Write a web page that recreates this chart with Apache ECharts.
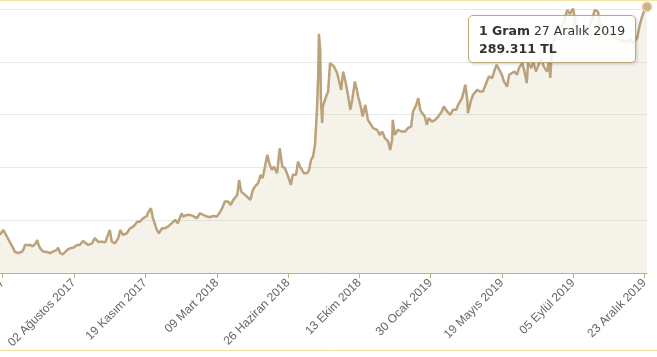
<!DOCTYPE html>
<html><head><meta charset="utf-8">
<script src="https://cdn.jsdelivr.net/npm/echarts@6/dist/echarts.min.js"></script>
<style>html,body{margin:0;padding:0;background:#fff;overflow:hidden}#c{width:657px;height:357px}</style>
</head><body><div id="c"></div>
<script>
const dates = ['2017-04-11','2017-04-16','2017-04-19','2017-04-22','2017-04-26','2017-05-01','2017-05-04','2017-05-09','2017-05-15','2017-05-18','2017-05-19','2017-05-22','2017-05-27','2017-05-31','2017-06-04','2017-06-07','2017-06-08','2017-06-11','2017-06-16','2017-06-22','2017-06-27','2017-07-01','2017-07-07','2017-07-09','2017-07-12','2017-07-16','2017-07-23','2017-07-27','2017-08-01','2017-08-07','2017-08-11','2017-08-16','2017-08-19','2017-08-24','2017-08-30','2017-09-03','2017-09-08','2017-09-14','2017-09-19','2017-09-22','2017-09-26','2017-09-29','2017-10-04','2017-10-09','2017-10-12','2017-10-16','2017-10-22','2017-10-27','2017-11-01','2017-11-07','2017-11-11','2017-11-16','2017-11-22','2017-11-23','2017-11-28','2017-12-01','2017-12-07','2017-12-10','2017-12-15','2017-12-19','2017-12-24','2017-12-30','2018-01-04','2018-01-08','2018-01-14','2018-01-16','2018-01-22','2018-01-27','2018-01-31','2018-02-06','2018-02-11','2018-02-16','2018-02-22','2018-02-26','2018-03-03','2018-03-09','2018-03-14','2018-03-17','2018-03-21','2018-03-26','2018-03-30','2018-04-03','2018-04-09','2018-04-12','2018-04-15','2018-04-18','2018-04-24','2018-04-29','2018-05-03','2018-05-06','2018-05-11','2018-05-15','2018-05-18','2018-05-25','2018-05-28','2018-06-01','2018-06-04','2018-06-09','2018-06-13','2018-06-17','2018-06-21','2018-06-26','2018-06-30','2018-07-03','2018-07-08','2018-07-11','2018-07-14','2018-07-17','2018-07-20','2018-07-25','2018-07-28','2018-07-31','2018-08-03','2018-08-06','2018-08-09','2018-08-11','2018-08-12','2018-08-14','2018-08-15','2018-08-17','2018-08-18','2018-08-23','2018-08-26','2018-08-29','2018-09-01','2018-09-04','2018-09-09','2018-09-12','2018-09-15','2018-09-18','2018-09-21','2018-09-25','2018-09-29','2018-10-02','2018-10-06','2018-10-09','2018-10-11','2018-10-15','2018-10-18','2018-10-22','2018-10-26','2018-10-29','2018-11-03','2018-11-09','2018-11-13','2018-11-17','2018-11-21','2018-11-26','2018-11-29','2018-12-02','2018-12-03','2018-12-06','2018-12-11','2018-12-17','2018-12-22','2018-12-26','2018-12-31','2019-01-03','2019-01-08','2019-01-11','2019-01-14','2019-01-17','2019-01-21','2019-01-24','2019-01-27','2019-02-01','2019-02-06','2019-02-10','2019-02-16','2019-02-19','2019-02-24','2019-03-01','2019-03-05','2019-03-10','2019-03-13','2019-03-16','2019-03-19','2019-03-24','2019-03-27','2019-03-28','2019-04-02','2019-04-05','2019-04-11','2019-04-15','2019-04-20','2019-04-26','2019-04-29','2019-05-04','2019-05-07','2019-05-11','2019-05-15','2019-05-19','2019-05-22','2019-05-27','2019-05-30','2019-06-03','2019-06-07','2019-06-11','2019-06-14','2019-06-19','2019-06-22','2019-06-26','2019-06-28','2019-07-03','2019-07-06','2019-07-10','2019-07-13','2019-07-18','2019-07-22','2019-07-27','2019-07-30','2019-08-01','2019-08-04','2019-08-10','2019-08-16','2019-08-22','2019-08-27','2019-08-31','2019-09-05','2019-09-09','2019-09-16','2019-09-22','2019-09-28','2019-10-04','2019-10-08','2019-10-13','2019-10-18','2019-10-24','2019-10-31','2019-11-08','2019-11-16','2019-11-23','2019-12-01','2019-12-07','2019-12-12','2019-12-16','2019-12-19','2019-12-22','2019-12-27'];
const values = [151.1,154.1,153.5,149.8,146.8,143.2,140.7,140.1,141.0,143.2,145.0,144.1,145.0,144.1,145.6,148.0,146.2,143.2,141.0,140.7,140.0,141.0,142.0,143.3,140.0,139.3,142.0,143.0,143.3,145.0,145.0,147.4,147.0,145.0,146.0,149.1,147.0,147.0,146.6,146.2,154.1,147.0,146.0,149.1,154.1,151.1,152.1,155.1,156.1,159.1,159.1,161.2,162.6,164.2,167.3,161.2,154.1,152.1,155.1,155.1,156.1,158.2,160.2,158.2,164.2,162.2,163.2,163.2,162.6,161.2,164.2,163.2,162.2,161.8,162.6,162.2,165.2,167.3,171.3,171.3,169.3,172.3,175.3,184.4,177.3,176.4,174.3,172.3,178.4,180.4,182.4,187.5,185.5,199.6,194.5,190.5,192.5,188.5,203.6,192.5,191.5,186.4,181.4,187.5,187.5,195.5,192.5,192.5,188.5,188.5,190.5,196.6,198.6,205.7,226.9,249.3,273.0,263.3,233.0,219.0,228.9,235.0,237.8,255.2,255.7,253.2,249.1,244.1,239.0,250.1,245.1,237.0,226.9,233.0,244.1,239.0,235.0,228.9,222.8,229.9,220.8,219.8,215.8,214.8,211.7,213.7,209.7,207.7,202.6,208.7,220.8,211.7,214.8,213.7,213.7,215.8,216.8,225.9,229.9,234.0,226.9,224.9,222.8,217.8,221.8,219.8,220.8,222.6,225.9,228.9,225.9,223.9,226.9,226.9,229.9,229.9,234.0,242.1,233.0,224.9,233.0,236.0,239.0,238.0,238.0,244.1,247.1,246.1,250.1,254.2,251.2,248.1,244.1,241.0,248.1,249.1,250.1,248.1,252.2,255.2,251.2,243.1,255.2,252.2,256.2,250.1,253.2,258.2,253.2,250.1,256.2,246.3,266.3,272.4,275.4,280.3,287.5,285.1,288.2,278.4,274.2,275.4,276.6,281.5,287.5,286.3,275.4,272.4,273.6,270.6,269.3,268.1,269.3,267.5,270.6,278.4,282.7,286.3,289.311];
const tickDates = ['2017-04-15','2017-08-02','2017-11-19','2018-03-09','2018-06-26','2018-10-13','2019-01-30','2019-05-19','2019-09-05','2019-12-23'];
const monthNames = ['Ocak','Şubat','Mart','Nisan','Mayıs','Haziran','Temmuz','Ağustos','Eylül','Ekim','Kasım','Aralık'];
const unitLabel = '1 Gram';
const currency = 'TL';
const yMin = 128, yMax = 320, yStep = 32;

function toTime(s){const p=s.split('-');return new Date(+p[0],+p[1]-1,+p[2]).getTime();}
function trDate(t){const d=new Date(t);return String(d.getDate()).padStart(2,'0')+' '+monthNames[d.getMonth()]+' '+d.getFullYear();}
const seriesData = dates.map((d,i)=>[toTime(d), values[i]]);
const last = seriesData.length-1;
const tickTimes = tickDates.map(toTime);

const chart = echarts.init(document.getElementById('c'), null, {renderer:'canvas'});
chart.setOption({
  animation:false,
  grid:{left:0,right:10,top:-43.8,bottom:84,containLabel:false,outerBoundsMode:'none'},
  xAxis:{type:'value',min:toTime(dates[0]),max:toTime(dates[last]),scale:true,
    axisLine:{lineStyle:{color:'#c9ab7c',width:1}},
    axisTick:{show:true,length:5,lineStyle:{color:'#c9ab7c'},customValues:tickTimes},
    axisLabel:{rotate:45,color:'#666',fontSize:12,fontFamily:'"Liberation Sans", Arial, sans-serif',margin:8,hideOverlap:false,customValues:tickTimes,formatter:function(v){return trDate(v);}},
    splitLine:{show:false}},
  yAxis:{type:'value',min:yMin,max:yMax,interval:yStep,
    axisLabel:{show:false},axisLine:{show:false},axisTick:{show:false},
    splitLine:{show:true,lineStyle:{color:'#e8e8e8',width:1}}},
  tooltip:{trigger:'axis',triggerOn:'none',alwaysShowContent:true,transitionDuration:0,showDelay:0,
    axisPointer:{type:'none'},position:[468,15],
    backgroundColor:'rgba(255,255,255,0.85)',borderColor:'#bfa77c',borderWidth:1,padding:[6,10,5,10],
    extraCssText:'border-radius:5px;box-shadow:1px 1px 3px rgba(0,0,0,0.18);',
    formatter:function(){
      const d=new Date(seriesData[last][0]);
      return '<div style="font-family:\'DejaVu Sans\',Verdana,sans-serif;font-size:12.5px;line-height:17.5px;color:#333;white-space:nowrap"><b>'+unitLabel+'</b> '+d.getDate()+' '+monthNames[d.getMonth()]+' '+d.getFullYear()+'<br><b>'+values[last].toFixed(3)+' '+currency+'</b></div>';
    }},
  graphic:[
    {type:'line',shape:{x1:0,y1:0.5,x2:657,y2:0.5},style:{stroke:'#f3e3a2',lineWidth:1},silent:true,z:100},
    {type:'line',shape:{x1:0,y1:350.5,x2:657,y2:350.5},style:{stroke:'#f1df9c',lineWidth:1},silent:true}
  ],
  series:[{type:'line',data:seriesData,showSymbol:false,symbol:'circle',symbolSize:9,
    lineStyle:{color:'#bba27a',width:2.5},
    itemStyle:{color:'#cfb283',borderColor:'#e9d9b8',borderWidth:1},
    areaStyle:{color:'rgba(201,179,138,0.25)'},
    emphasis:{disabled:true},
    markPoint:{symbol:'circle',symbolSize:9,silent:true,label:{show:false},
      itemStyle:{color:'#cfb283',borderColor:'#e9d9b8',borderWidth:1},
      data:[{coord:seriesData[last]}]}
  }]
});
chart.dispatchAction({type:'showTip',seriesIndex:0,dataIndex:last});
</script></body></html>
